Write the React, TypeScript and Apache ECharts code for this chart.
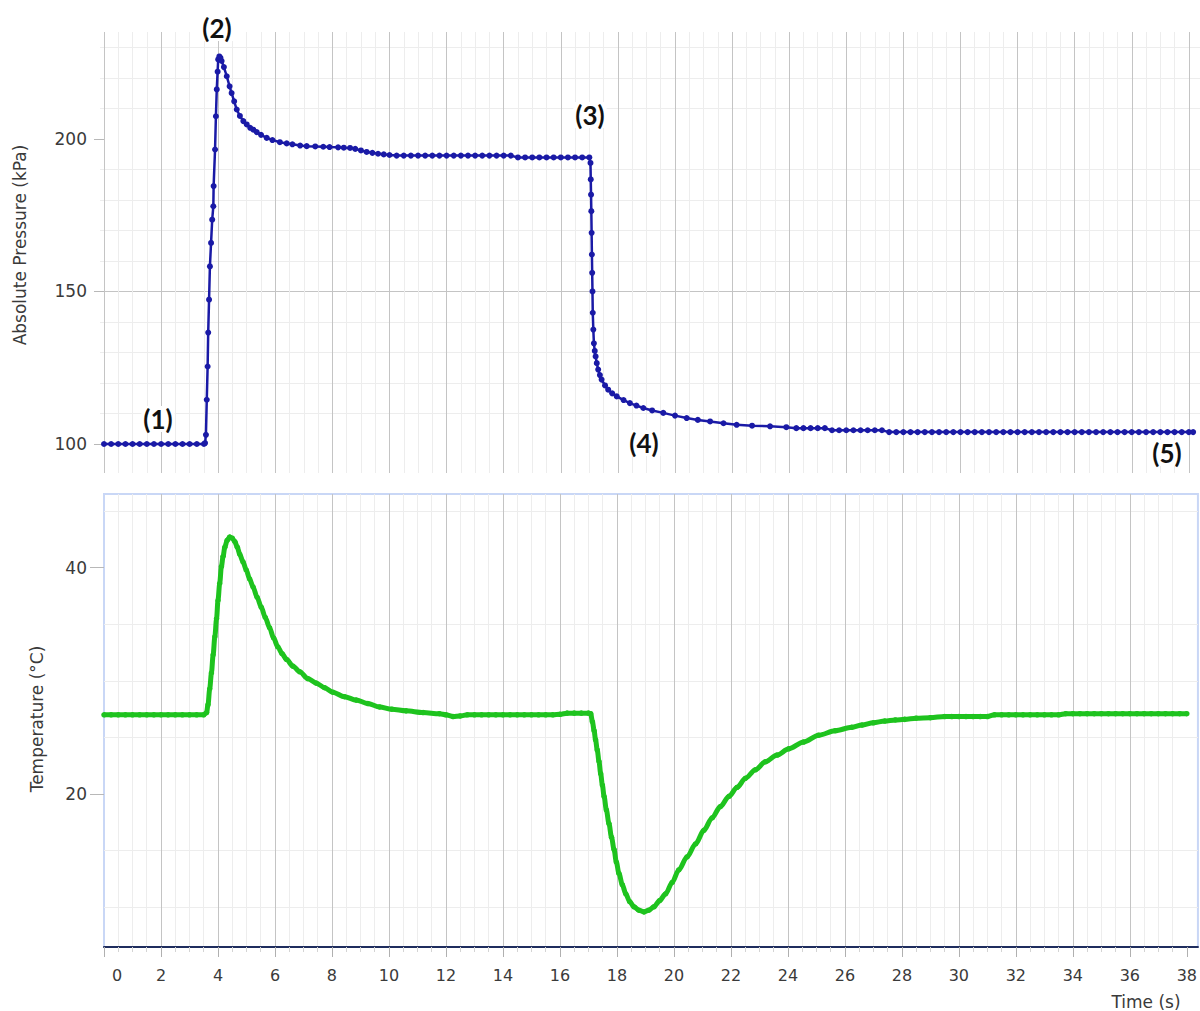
import React, { useEffect, useRef } from "react";
import * as echarts from "echarts";

// Absolute pressure (kPa) vs time (s)
const pressureData: [number, number][] = [
  [0, 100], [0.25, 100], [0.5, 100], [0.75, 100], [1, 100], [1.25, 100], [1.5, 100], [1.75, 100],
  [2, 100], [2.25, 100], [2.5, 100], [2.75, 100], [3, 100], [3.25, 100], [3.5, 100],
  [3.54, 100.3], [3.57, 103], [3.6, 114.5], [3.63, 125.4], [3.65, 136.5], [3.68, 147.3],
  [3.71, 158.2], [3.75, 165.9], [3.79, 173.5], [3.83, 177.9], [3.84, 184.5], [3.89, 196.5],
  [3.92, 207.4], [3.95, 216.2], [3.98, 222], [4.0, 226], [4.04, 227], [4.08, 226.5], [4.12, 225.5],
  [4.2, 223.5], [4.3, 220.5], [4.4, 217.2], [4.47, 215], [4.56, 212.3], [4.65, 209.6], [4.76, 207.5],
  [4.88, 205.8], [5.0, 204.7], [5.12, 203.6], [5.23, 203], [5.35, 202.2], [5.5, 201.3], [5.7, 200.3],
  [5.9, 199.6], [6.16, 198.9], [6.4, 198.5], [6.6, 198.2], [6.87, 197.8], [7.1, 197.6], [7.4, 197.5],
  [7.68, 197.4], [7.9, 197.3], [8.2, 197.2], [8.4, 197.1], [8.62, 197.0], [8.8, 196.7], [9.0, 196.2],
  [9.2, 195.7], [9.4, 195.4], [9.6, 195.1], [9.8, 194.9], [10.0, 194.7], [10.25, 194.5], [10.5, 194.5],
  [10.75, 194.5], [11, 194.5], [11.25, 194.5], [11.5, 194.5], [11.75, 194.5], [12, 194.5], [12.25, 194.5],
  [12.5, 194.5], [12.75, 194.5], [13, 194.5], [13.25, 194.5], [13.5, 194.5], [13.75, 194.5], [14, 194.5],
  [14.25, 194.5], [14.5, 193.9], [14.75, 193.9], [15, 193.9], [15.25, 193.9], [15.5, 193.9], [15.75, 193.9],
  [16, 193.9], [16.25, 193.9], [16.5, 193.9], [16.75, 193.9], [17.0, 193.9],
  [17.04, 192.1], [17.05, 186.7], [17.06, 181.7], [17.07, 176.3], [17.08, 169.2], [17.09, 162.1],
  [17.1, 156.1], [17.11, 150], [17.12, 143], [17.14, 137.5], [17.16, 133], [17.19, 130.5], [17.22, 128.7],
  [17.26, 126.5], [17.31, 124.4], [17.37, 122.6], [17.43, 121.1], [17.55, 119.2], [17.66, 117.8],
  [17.8, 116.6], [17.96, 115.6], [18.2, 114.4], [18.42, 113.4], [18.65, 112.6], [18.89, 111.8],
  [19.2, 111.0], [19.59, 110.2], [20.0, 109.3], [20.41, 108.5], [20.8, 107.9], [21.23, 107.4],
  [21.7, 106.8], [22.16, 106.3], [22.7, 106.0], [23.33, 105.8], [23.9, 105.5], [24.25, 105.2],
  [24.5, 105.2], [24.75, 105.2], [25, 105.2], [25.25, 105.2], [25.5, 104.5], [25.75, 104.5], [26, 104.5],
  [26.25, 104.5], [26.5, 104.5], [26.75, 104.5], [27, 104.5], [27.25, 104.5], [27.5, 103.9], [27.75, 103.9],
  [28, 103.9], [28.25, 103.9], [28.5, 103.9], [28.75, 103.9], [29, 103.9], [29.25, 103.9], [29.5, 103.9],
  [29.75, 103.9], [30, 103.9], [30.25, 103.9], [30.5, 103.9], [30.75, 103.9], [31, 103.9], [31.25, 103.9],
  [31.5, 103.9], [31.75, 103.9], [32, 103.9], [32.25, 103.9], [32.5, 103.9], [32.75, 103.9], [33, 103.9],
  [33.25, 103.9], [33.5, 103.9], [33.75, 103.9], [34, 103.9], [34.25, 103.9], [34.5, 103.9], [34.75, 103.9],
  [35, 103.9], [35.25, 103.9], [35.5, 103.9], [35.75, 103.9], [36, 103.9], [36.25, 103.9], [36.5, 103.9],
  [36.75, 103.9], [37, 103.9], [37.25, 103.9], [37.5, 103.9], [37.75, 103.9], [38, 103.9], [38.15, 103.9],
];

// Temperature (°C) vs time (s)
const temperatureData: [number, number][] = [
  [0, 27.0], [0.25, 27.0], [0.5, 27.0], [0.75, 27.0], [1, 27.0], [1.25, 27.0], [1.5, 27.0], [1.75, 27.0],
  [2, 27.0], [2.25, 27.0], [2.5, 27.0], [2.75, 27.0], [3, 27.0], [3.25, 27.0], [3.5, 27.0],
  [3.6, 27.2], [3.65, 27.9], [3.71, 29.3], [3.77, 30.7], [3.83, 32.3], [3.89, 33.9], [3.95, 35.5],
  [4.0, 37.1], [4.06, 38.6], [4.12, 40.1], [4.18, 41.0], [4.24, 41.8], [4.32, 42.4], [4.41, 42.7],
  [4.5, 42.6], [4.59, 42.3], [4.68, 41.8], [4.76, 41.2], [4.88, 40.5], [4.99, 39.8], [5.11, 39.0],
  [5.23, 38.3], [5.37, 37.4], [5.52, 36.5], [5.66, 35.6], [5.81, 34.7], [5.95, 33.8], [6.1, 33.0],
  [6.25, 32.4], [6.4, 31.9], [6.63, 31.3], [6.87, 30.8], [7.15, 30.2], [7.45, 29.8], [7.74, 29.4],
  [8.03, 29.0], [8.44, 28.6], [8.85, 28.3], [9.26, 28.0], [9.67, 27.7], [10.1, 27.5], [10.6, 27.35],
  [11.2, 27.2], [11.77, 27.1], [12.0, 27.0], [12.25, 26.85], [12.5, 26.9], [12.75, 27.0], [13, 27.0],
  [13.25, 27.0], [13.5, 27.0], [13.75, 27.0], [14, 27.0], [14.25, 27.0], [14.5, 27.0], [14.75, 27.0],
  [15, 27.0], [15.25, 27.0], [15.5, 27.0], [15.75, 27.0], [16, 27.05], [16.25, 27.15], [16.5, 27.15],
  [16.75, 27.15], [17.0, 27.15], [17.08, 27.1], [17.14, 26.4], [17.2, 25.6], [17.25, 24.8], [17.31, 23.9],
  [17.37, 22.9], [17.43, 21.8], [17.49, 20.8], [17.55, 19.8], [17.63, 18.6], [17.72, 17.4], [17.81, 16.2],
  [17.9, 15.1], [17.98, 14.0], [18.07, 13.0], [18.19, 12.0], [18.31, 11.2], [18.45, 10.5], [18.6, 10.05],
  [18.77, 9.75], [18.95, 9.6], [19.12, 9.75], [19.3, 10.05], [19.5, 10.6], [19.71, 11.2], [19.94, 12.2],
  [20.17, 13.3], [20.46, 14.45], [20.76, 15.6], [21.05, 16.8], [21.34, 17.9], [21.63, 18.9], [21.93, 19.8],
  [22.22, 20.6], [22.51, 21.4], [22.86, 22.15], [23.21, 22.85], [23.62, 23.45], [24.03, 24.0],
  [24.55, 24.6], [25.08, 25.2], [25.66, 25.6], [26.24, 25.9], [26.6, 26.1], [27.0, 26.3], [27.4, 26.45],
  [27.77, 26.55], [28.1, 26.6], [28.5, 26.7], [29.0, 26.75], [29.5, 26.85], [29.75, 26.85], [30, 26.85],
  [30.25, 26.85], [30.5, 26.85], [30.75, 26.85], [31, 26.85], [31.25, 27.0], [31.5, 27.0], [31.75, 27.0],
  [32, 27.0], [32.25, 27.0], [32.5, 27.0], [32.75, 27.0], [33, 27.0], [33.25, 27.0], [33.5, 27.0],
  [33.75, 27.1], [34, 27.1], [34.25, 27.1], [34.5, 27.1], [34.75, 27.1], [35, 27.1], [35.25, 27.1],
  [35.5, 27.1], [35.75, 27.1], [36, 27.1], [36.25, 27.1], [36.5, 27.1], [36.75, 27.1], [37, 27.1],
  [37.25, 27.1], [37.5, 27.1], [37.75, 27.1], [38, 27.1],
];

const pressureTicks = [100, 150, 200];
const temperatureTicks = [20, 40];
const timeTicks = [0, 2, 4, 6, 8, 10, 12, 14, 16, 18, 20, 22, 24, 26, 28, 30, 32, 34, 36, 38];
const annotations = ["(1)", "(2)", "(3)", "(4)", "(5)"];

const AXIS_FONT = "'DejaVu Sans', Verdana, sans-serif";
const TEXT_COLOR = "#3a3a3a";
const MAJOR = "#c4c4c4";
const MINOR = "#ededed";
const BLUE = "#1a1aa6";
const GREEN = "#1ec31e";

export default function App() {
  const ref = useRef<HTMLDivElement>(null);

  useEffect(() => {
    if (!ref.current) return;
    const chart = echarts.init(ref.current, undefined, { renderer: "svg" });

    const annStyle = (text: string) => ({
      text,
      fill: "#111",
      font: "bold 26px Lato, 'Open Sans', sans-serif",
      align: "center",
      verticalAlign: "middle",
      backgroundColor: "#ffffff",
      padding: [0, 2, 0, 2],
    });

    chart.setOption({
      animation: false,
      backgroundColor: "#ffffff",
      grid: [
        { left: 100, top: 32, width: 1100, height: 441, show: false },
        {
          left: 104, top: 494, width: 1096, height: 453, show: true,
          borderColor: "#c9d7f6", borderWidth: 2, backgroundColor: "transparent",
        },
      ],
      xAxis: [
        {
          type: "value", gridIndex: 0, min: -0.14, max: 38.39,
          minInterval: 2, maxInterval: 2,
          axisLine: { show: false }, axisTick: { show: false }, axisLabel: { show: false },
          splitLine: { show: true, showMinLine: false, showMaxLine: false, lineStyle: { color: MAJOR, width: 1 } },
          minorTick: { show: false, splitNumber: 4 },
          minorSplitLine: { show: true, lineStyle: { color: MINOR, width: 1 } },
        },
        {
          type: "value", gridIndex: 1, min: 0, max: 38.39,
          minInterval: 2, maxInterval: 2,
          axisLine: { show: true, onZero: false, lineStyle: { color: "#1f2d5e", width: 2 } },
          axisTick: { show: true, length: 10, lineStyle: { color: "#b0b0b0" }, customValues: timeTicks },
          minorTick: { show: true, splitNumber: 4, length: 5, lineStyle: { color: "#d4d4d4" } },
          axisLabel: {
            show: true, margin: 20, fontSize: 16, color: TEXT_COLOR, fontFamily: AXIS_FONT,
            customValues: timeTicks,
            formatter: (v: number) => (v === 0 ? "{z|0}" : String(v)),
            rich: { z: { padding: [0, 0, 0, 26], fontSize: 16, color: TEXT_COLOR, fontFamily: AXIS_FONT } },
          },
          splitLine: { show: true, showMinLine: false, showMaxLine: false, lineStyle: { color: MAJOR, width: 1 } },
          minorSplitLine: { show: true, lineStyle: { color: MINOR, width: 1 } },
        },
      ],
      yAxis: [
        {
          type: "value", gridIndex: 0, min: 90.5, max: 235,
          minInterval: 50, maxInterval: 50,
          axisLine: { show: false },
          axisTick: { show: true, length: 10, lineStyle: { color: "#b8b8b8" }, customValues: pressureTicks },
          axisLabel: {
            show: true, margin: 13, fontSize: 17, color: TEXT_COLOR, fontFamily: AXIS_FONT,
            customValues: pressureTicks,
          },
          splitLine: { show: true, showMinLine: false, showMaxLine: false, lineStyle: { color: MAJOR, width: 1 } },
          minorTick: { show: false, splitNumber: 5 },
          minorSplitLine: { show: true, lineStyle: { color: MINOR, width: 1 } },
        },
        {
          type: "value", gridIndex: 1, min: 6.5, max: 46.5,
          minInterval: 20, maxInterval: 20,
          axisLine: { show: false },
          axisTick: { show: true, length: 14, lineStyle: { color: "#b8b8b8" }, customValues: temperatureTicks },
          axisLabel: {
            show: true, margin: 17, fontSize: 17, color: TEXT_COLOR, fontFamily: AXIS_FONT,
            customValues: temperatureTicks,
          },
          splitLine: { show: true, showMinLine: false, showMaxLine: false, lineStyle: { color: MAJOR, width: 1 } },
          minorTick: { show: false, splitNumber: 4 },
          minorSplitLine: { show: true, lineStyle: { color: MINOR, width: 1 } },
        },
      ],
      series: [
        {
          name: "Absolute Pressure",
          type: "line", xAxisIndex: 0, yAxisIndex: 0,
          data: pressureData,
          symbol: "circle", symbolSize: 6, showSymbol: true,
          lineStyle: { color: BLUE, width: 2.5 },
          itemStyle: { color: BLUE },
        },
        {
          name: "Temperature",
          type: "line", xAxisIndex: 1, yAxisIndex: 1,
          data: temperatureData,
          smooth: 0.3, smoothMonotone: "x",
          symbol: "circle", symbolSize: 5.5, showSymbol: true,
          lineStyle: { color: GREEN, width: 5 },
          itemStyle: { color: GREEN },
        },
      ],
      graphic: [
        {
          type: "text", x: 20, y: 245, rotation: Math.PI / 2,
          style: { text: "Absolute Pressure (kPa)", fill: TEXT_COLOR, font: `17px ${AXIS_FONT}`, align: "center", verticalAlign: "middle" },
        },
        {
          type: "text", x: 37, y: 719, rotation: Math.PI / 2,
          style: { text: "Temperature (°C)", fill: TEXT_COLOR, font: `17px ${AXIS_FONT}`, align: "center", verticalAlign: "middle" },
        },
        {
          type: "text", x: 1146, y: 1002,
          style: { text: "Time (s)", fill: TEXT_COLOR, font: `17px ${AXIS_FONT}`, align: "center", verticalAlign: "middle" },
        },
        { type: "text", x: 158, y: 419, z: 100, style: annStyle(annotations[0]) },
        { type: "text", x: 217, y: 28, z: 100, style: annStyle(annotations[1]) },
        { type: "text", x: 590, y: 115, z: 100, style: annStyle(annotations[2]) },
        { type: "text", x: 644, y: 443, z: 100, style: annStyle(annotations[3]) },
        { type: "text", x: 1167, y: 453, z: 100, style: annStyle(annotations[4]) },
      ],
    });

    return () => chart.dispose();
  }, []);

  return (
    <div
      ref={ref}
      style={{ position: "fixed", left: 0, top: 0, width: 1200, height: 1011, background: "#fff" }}
    />
  );
}
